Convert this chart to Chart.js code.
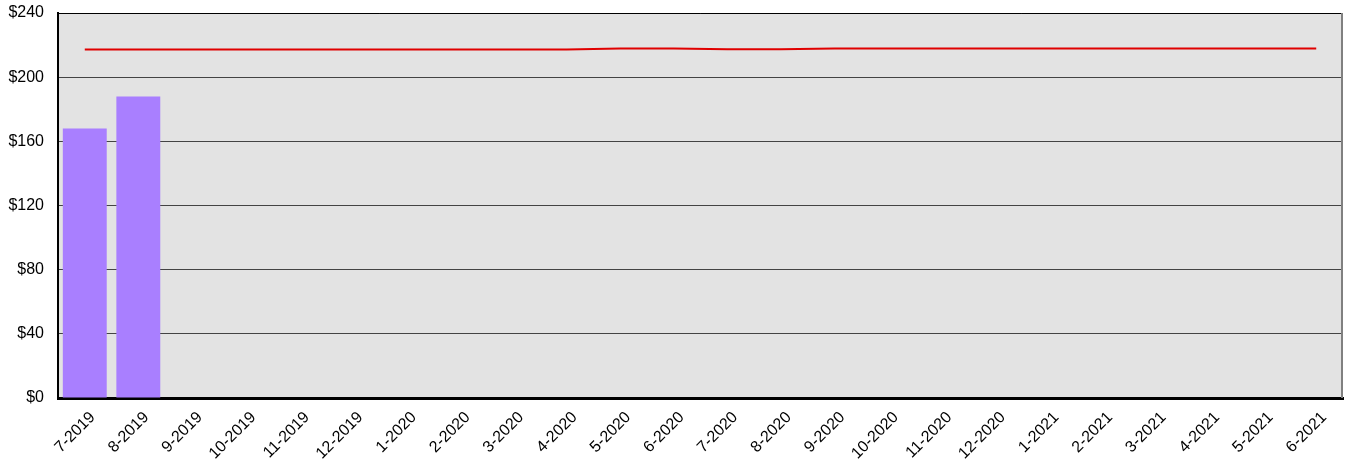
<!DOCTYPE html>
<html lang="en">
<head>
<meta charset="UTF-8" />
<title>Monthly Cost</title>
<script src="https://cdn.jsdelivr.net/npm/chart.js"></script>
<style>
body { margin: 0; padding: 0; background: #fff; }
canvas { display: block; }
</style>
</head>
<body>
<canvas id="chart" width="1347" height="470"></canvas>
<script>
const months = ['7-2019', '8-2019', '9-2019', '10-2019', '11-2019', '12-2019',
  '1-2020', '2-2020', '3-2020', '4-2020', '5-2020', '6-2020',
  '7-2020', '8-2020', '9-2020', '10-2020', '11-2020', '12-2020',
  '1-2021', '2-2021', '3-2021', '4-2021', '5-2021', '6-2021'];

// actual monthly spend (only first two months filled)
const actual = [168, 188, null, null, null, null, null, null, null, null, null, null,
  null, null, null, null, null, null, null, null, null, null, null, null];

// budget line
const budget = [217.3, 217.3, 217.3, 217.3, 217.3, 217.3, 217.3, 217.3, 217.3, 217.3, 217.8, 217.8,
  217.4, 217.4, 217.9, 217.9, 217.9, 217.9, 217.9, 217.9, 217.9, 217.9, 217.9, 217.9];

const yTicks = [0, 40, 80, 120, 160, 200, 240];

const plotBg = {
  id: 'plotBg',
  beforeDraw(chart) {
    const { ctx, chartArea: a } = chart;
    ctx.save();
    ctx.fillStyle = '#e3e3e3';
    ctx.fillRect(a.left, a.top, a.right - a.left, a.bottom - a.top);
    ctx.restore();
  },
  afterDatasetsDraw(chart) {
    const { ctx, chartArea: a } = chart;
    ctx.save();
    ctx.strokeStyle = '#000';
    ctx.lineWidth = 1;
    ctx.beginPath();
    ctx.moveTo(a.left, a.top + 0.5);
    ctx.lineTo(a.right, a.top + 0.5);
    ctx.stroke();
    ctx.strokeStyle = '#808080';
    ctx.lineWidth = 2;
    ctx.beginPath();
    ctx.moveTo(a.right - 1, a.top);
    ctx.lineTo(a.right - 1, a.bottom);
    ctx.stroke();
    ctx.restore();
  }
};

new Chart(document.getElementById('chart').getContext('2d'), {
  type: 'bar',
  data: {
    labels: months,
    datasets: [
      {
        type: 'line',
        label: 'Budget',
        data: budget,
        borderColor: '#e00000',
        borderWidth: 2,
        pointRadius: 0,
        tension: 0,
        fill: false,
        order: 0
      },
      {
        label: 'Actual',
        data: actual,
        backgroundColor: '#a97fff',
        borderWidth: 0,
        categoryPercentage: 1,
        barPercentage: 0.82,
        order: 1
      }
    ]
  },
  options: {
    responsive: false,
    animation: false,
    layout: { padding: { left: 0, right: 4, top: 13, bottom: 0 } },
    plugins: {
      legend: { display: false },
      tooltip: { enabled: false }
    },
    scales: {
      x: {
        grid: { display: false, drawTicks: false },
        border: { color: '#000', width: 3 },
        ticks: {
          autoSkip: false,
          minRotation: 45,
          maxRotation: 45,
          padding: 10,
          labelOffset: 8,
          color: '#000',
          font: { family: 'Liberation Sans', size: 16 }
        },
        afterFit(scale) { scale.height = 72; }
      },
      y: {
        min: 0,
        max: 240,
        afterBuildTicks(scale) { scale.ticks = yTicks.map(v => ({ value: v })); },
        grid: { color: '#444', lineWidth: 1, drawTicks: false },
        border: { color: '#000', width: 2 },
        ticks: {
          padding: 14,
          color: '#000',
          font: { family: 'Liberation Sans', size: 16 },
          callback: v => '$' + v
        },
        afterFit(scale) {
          scale.width = 58;
          scale.paddingTop = 0;
          scale.paddingBottom = 0;
        }
      }
    }
  },
  plugins: [plotBg]
});
</script>
</body>
</html>
